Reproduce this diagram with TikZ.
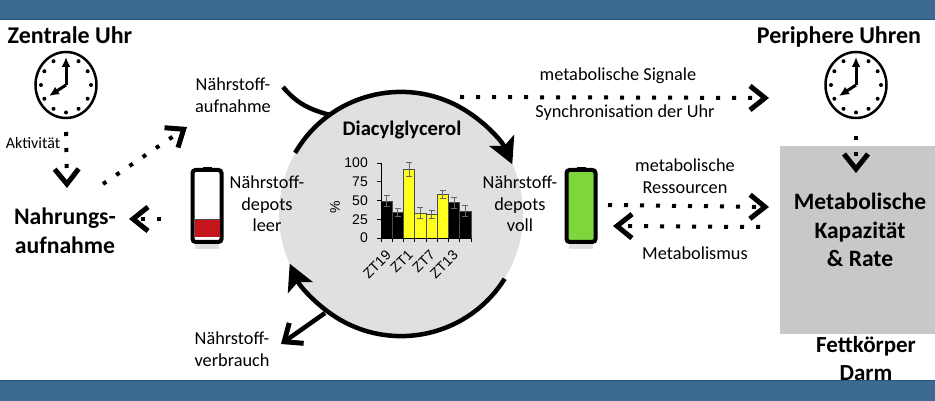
\documentclass[tikz,border=0pt]{standalone}
\usepackage{fontspec}
\setmainfont{Carlito}
\newfontfamily\arialfont{Liberation Sans}
\usetikzlibrary{arrows.meta,shapes.geometric}
\definecolor{bandblue}{HTML}{3D6A92}
\definecolor{bandedge}{HTML}{1F5582}
\definecolor{depotgrey}{HTML}{E0E0E0}
\definecolor{boxgrey}{HTML}{C8C8C8}
\definecolor{barred}{HTML}{C4141C}
\definecolor{bargreen}{HTML}{7CD63C}
\definecolor{baryellow}{HTML}{FFFF1E}

\begin{document}
\begin{tikzpicture}[x=1pt,y=1pt]
\tikzset{lab/.style={inner sep=0pt, align=center, font=\fontsize{18.3}{21.5}\selectfont},
  small/.style={lab, font=\fontsize{16}{18}\selectfont},
  big/.style={lab, font=\bfseries\fontsize{23.7}{29}\selectfont},
  head/.style={lab, font=\bfseries\fontsize{24}{26}\selectfont},
  chart/.style={inner sep=0pt, font=\arialfont\fontsize{14}{16}\selectfont},
  dotarrow/.style={line width=4pt, dash pattern=on 4pt off 12pt, -{Straight Barb[length=15pt,width=24pt,line width=5pt]}},
  cycle/.style={line width=4.5pt, -{Stealth[length=26pt,width=27pt,inset=6pt]}},
  branch/.style={line width=4.5pt, -{Straight Barb[length=15pt,width=25pt,line width=5pt]}},
  rim/.style={draw, ellipse, line width=2.5pt, minimum width=61pt, minimum height=66pt, inner sep=0pt},
  hand/.style={line width=3pt, -{Latex[length=10pt,width=9pt]}},
  shell/.style={draw=black, line width=4pt, rounded corners=3pt, minimum width=29pt, minimum height=72pt, inner sep=0pt}}
\useasboundingbox (0,0) rectangle (935,401);
% bands
\fill[bandblue] (0,382) rectangle (935,401);
\fill[bandblue] (0,0) rectangle (935,20);
\draw[bandedge] (0,381.5) -- (935,381.5);
\draw[bandedge] (0,20.5) -- (935,20.5);
% grey areas
\node[fill=depotgrey, circle, minimum size=244pt, inner sep=0pt] (depot) at (401,187) {};
\node[fill=boxgrey, minimum width=155pt, minimum height=188pt, inner sep=0pt] (capbox) at (857.5,161) {};
% clocks
\foreach \cx/\name in {66/clockZ,856/clockP} {
  \node[rim] (\name) at (\cx,316) {};
  \foreach \a in {0,30,60,120,150,180,210,240,270,300,330}
    \fill (\cx,316) ++(\a:25pt and 27.5pt) circle (2pt);
  \draw[hand] (\name.center) -- ++(0,28);
  \draw[hand] (\name.center) -- ++(-17,-11);
}
% batteries
\fill[black!12] (195,152) rectangle (219,157);
\node[shell, fill=white] (battL) at (207,195) {};
\fill[black] (203,230) rectangle (212,234);
\fill[barred] (194.5,164) rectangle (219.5,181);
\draw[black!70, line width=1pt] (194.5,181) -- (219.5,181);
\fill[black!12] (569,152) rectangle (593,157);
\node[shell, fill=bargreen] (battR) at (581,195) {};
\fill[black] (577,230) rectangle (586,234);
% labels
\node[head] (zentrale) at (70,366) {Zentrale Uhr};
\node[head] (periphere) at (839,364) {Periphere Uhren};
\node[small] (aktivitaet) at (33,258) {Aktivität};
\node[big] (nahrung) at (65,170) {Nahrungs-\\aufnahme};
\node[lab] (aufnahme) at (233,306) {Nährstoff-\\aufnahme};
\node[lab] (leer) at (267,197) {Nährstoff-\\depots\\leer};
\node[lab] (voll) at (520,197) {Nährstoff-\\depots\\voll};
\node[lab] (verbrauch) at (232,52) {Nährstoff-\\verbrauch};
\node[lab] (signale) at (618,325) {metabolische Signale};
\node[lab] (synchron) at (625,288) {Synchronisation der Uhr};
\node[lab] (ressourcen) at (685,225) {metabolische\\Ressourcen};
\node[lab] (metabol) at (695,148) {Metabolismus};
\node[big, font=\bfseries\fontsize{23.5}{28.5}\selectfont] (kapazitaet) at (860,171) {Metabolische\\Kapazität\\\& Rate};
\node[big, font=\bfseries\fontsize{23}{28}\selectfont] (fett) at (866,42) {Fettkörper\\Darm};
\node[lab, font=\bfseries\fontsize{20.7}{22}\selectfont] (dag) at (402,271) {Diacylglycerol};
% connector ends
\coordinate (a1) at (66,269);
\coordinate (a2) at (67,213);
\coordinate (b1) at (103,217);
\coordinate (b2) at (187,274);
\coordinate (c1) at (161,182);
\coordinate (c2) at (129,182);
\coordinate (d1) at (460,304);
\coordinate (d2) at (769,303);
\coordinate (e1) at (608,196);
\coordinate (e2) at (769,194);
\coordinate (f1) at (760,174);
\coordinate (f2) at (613,175);
\coordinate (g1) at (856,265);
\coordinate (g2) at (856,228);
\coordinate (h1) at (283,314);
\coordinate (h2) at (330,286);
\coordinate (i1) at (325,88);
\coordinate (i2) at (281,57);
% connectors
\draw[dotarrow] (a1) -- (a2);
\draw[dotarrow] (b1) -- (b2);
\draw[dotarrow] (c1) -- (c2);
\draw[dotarrow] (d1) -- (d2);
\draw[dotarrow] (e1) -- (e2);
\draw[dotarrow] (f1) -- (f2);
\draw[dotarrow] (g1) -- (g2);
\draw[cycle] (depot.150) arc[start angle=150, end angle=24, radius=122];
\draw[cycle] (depot.-32) arc[start angle=-32, end angle=-156, radius=122];
\draw[line width=4.5pt] (h1) to[out=-50, in=165] (h2);
\draw[branch] (i1) -- (i2);
% chart
\foreach \i/\h/\e/\c in {0/49/8/black,1/34/6/black,2/91/10/baryellow,3/33/8/baryellow,4/31/6/baryellow,5/58/6/baryellow,6/47/8/black,7/36/8/black} {
  \pgfmathsetmacro{\xl}{381+11.25*\i}
  \pgfmathsetmacro{\xm}{\xl+5.6}
  \pgfmathsetmacro{\top}{163+0.75*\h}
  \pgfmathsetmacro{\eh}{0.75*\e}
  \draw[draw=black!70, line width=0.6pt, fill=\c] (\xl,163) rectangle ++(11.25,0.75*\h);
  \draw[black!60, line width=0.8pt, |-|] (\xm,\top-\eh) -- (\xm,\top+\eh);
  \draw[black, line width=0.7pt] (\xl,163) -- ++(0,-4);
}
\draw[black, line width=0.7pt] (471,163) -- ++(0,-4);
\draw[black, line width=0.7pt] (381,163) -- (381,238);
\draw[black, line width=0.7pt] (381,163) -- (471,163);
\foreach \v/\name in {0/ya,25/yb,50/yc,75/yd,100/ye} {
  \draw[black, line width=0.7pt] (381,163+0.75*\v) -- ++(-4,0);
  \node[chart, anchor=east] (\name) at (368,163+0.75*\v) {\v};
}
\node[chart, rotate=90] (percent) at (335,194) {\%};
\node[chart, rotate=45, anchor=north east] (zta) at (385,152) {ZT19};
\node[chart, rotate=45, anchor=north east] (ztb) at (407,152) {ZT1};
\node[chart, rotate=45, anchor=north east] (ztc) at (429,152) {ZT7};
\node[chart, rotate=45, anchor=north east] (ztd) at (452,152) {ZT13};
\end{tikzpicture}
\end{document}
